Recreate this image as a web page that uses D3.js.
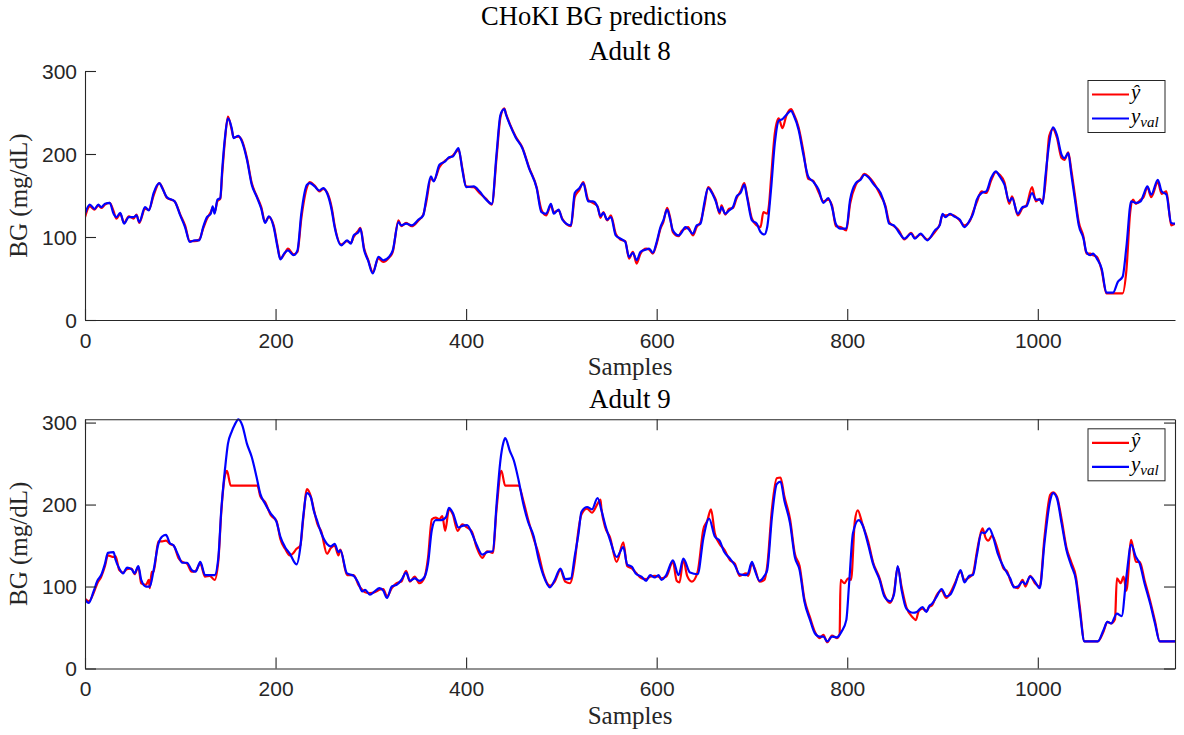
<!DOCTYPE html>
<html>
<head>
<meta charset="utf-8">
<script src="https://cdn.jsdelivr.net/npm/d3@7"></script>
<style>
body { margin: 0; background: #fff; }
</style>
</head>
<body>
<div id="chart"></div>
<script>
// tick values
var sampleTicks = [0, 200, 400, 600, 800, 1000];
var bgTicks = [0, 100, 200, 300];
var panelTitles = ['Adult 8', 'Adult 9'];

// [sample, BG] pairs
var adult8Pred = [[0,124],[5,137],[10,133],[14,138],[17,135],[21,139],[26,141],[30,131],[33,122],[37,128],[41,117],[46,125],[51,122],[54,127],[57,117],[63,134],[67,133],[72,150],[78,165],[81,160],[86,147],[94,143],[100,127],[105,114],[110,95],[115,95],[120,97],[124,110],[128,122],[132,130],[134,135],[136,130],[139,143],[142,146],[144,176],[147,218],[150,245],[154,229],[156,220],[161,221],[164,218],[170,195],[175,165],[180,150],[185,136],[189,118],[193,124],[198,114],[202,90],[205,74],[209,79],[213,86],[219,79],[223,82],[227,122],[233,160],[236,166],[241,162],[246,155],[250,158],[254,154],[259,135],[262,114],[269,91],[275,95],[279,93],[282,100],[287,108],[289,111],[293,86],[297,73],[302,58],[308,74],[313,70],[319,75],[323,82],[329,120],[332,113],[337,117],[343,113],[350,120],[355,127],[358,141],[363,170],[366,168],[372,184],[378,192],[382,195],[386,198],[392,205],[396,183],[400,161],[408,160],[414,153],[421,146],[427,139],[432,196],[436,244],[440,255],[442,248],[446,236],[452,221],[459,208],[466,184],[474,160],[479,133],[484,126],[489,138],[492,130],[497,132],[501,122],[510,113],[514,148],[519,157],[523,166],[528,145],[533,141],[538,137],[541,123],[544,130],[548,120],[552,126],[557,104],[562,97],[567,95],[571,74],[575,82],[579,68],[583,80],[589,86],[592,85],[596,80],[600,92],[604,110],[607,118],[611,135],[614,124],[617,106],[623,101],[626,107],[630,110],[633,112],[638,102],[642,112],[646,118],[650,137],[654,160],[659,152],[662,145],[666,128],[668,138],[672,127],[676,134],[680,135],[684,147],[688,155],[692,165],[695,149],[700,122],[705,114],[709,112],[712,130],[716,128],[718,140],[720,170],[724,225],[728,243],[732,231],[736,246],[741,254],[744,248],[749,232],[754,203],[759,170],[764,168],[770,154],[775,143],[780,145],[784,138],[788,113],[793,112],[799,108],[803,140],[809,163],[814,170],[818,176],[823,172],[828,165],[835,150],[840,138],[844,118],[849,113],[854,108],[860,97],[867,105],[871,99],[877,103],[884,97],[892,106],[897,115],[900,126],[903,126],[908,127],[912,126],[918,120],[923,114],[929,120],[932,130],[936,142],[941,155],[946,153],[951,168],[956,178],[960,175],[965,166],[970,140],[973,149],[979,126],[984,135],[988,138],[994,160],[998,143],[1002,146],[1005,142],[1008,165],[1012,222],[1016,230],[1020,220],[1025,195],[1028,193],[1032,202],[1035,182],[1039,150],[1043,118],[1048,100],[1051,80],[1055,80],[1058,78],[1062,76],[1067,60],[1072,32],[1089,32],[1093,60],[1097,130],[1100,145],[1103,140],[1108,145],[1111,148],[1115,160],[1119,148],[1126,166],[1130,152],[1135,155],[1140,114],[1144,116]];

var adult8Val = [[0,128],[5,139],[10,134],[14,139],[17,136],[21,140],[26,141],[30,128],[33,124],[37,129],[41,116],[46,124],[51,124],[54,126],[57,118],[63,136],[67,132],[72,153],[78,165],[81,159],[86,148],[94,143],[100,126],[105,112],[110,94],[115,96],[120,96],[124,112],[128,124],[132,128],[134,137],[136,128],[139,145],[142,147],[144,181],[147,221],[150,243],[154,231],[156,219],[161,222],[164,217],[170,193],[175,163],[180,149],[185,134],[189,117],[193,125],[198,112],[202,88],[205,73],[209,80],[213,84],[219,78],[223,84],[227,128],[233,163],[236,165],[241,161],[246,156],[250,159],[254,153],[259,132],[262,112],[269,90],[275,96],[279,92],[282,102],[287,106],[289,110],[293,84],[297,72],[302,56],[308,76],[313,72],[319,76],[323,84],[329,118],[332,114],[337,116],[343,114],[350,121],[355,126],[358,145],[363,173],[366,167],[372,187],[378,191],[382,196],[386,197],[392,207],[396,181],[400,160],[408,161],[414,155],[421,145],[427,140],[432,201],[436,247],[440,254],[442,247],[446,235],[452,220],[459,207],[466,183],[474,159],[479,130],[484,128],[489,140],[492,128],[497,133],[501,121],[510,114],[514,153],[519,159],[523,165],[528,143],[533,143],[538,136],[541,125],[544,129],[548,121],[552,124],[557,102],[562,98],[567,94],[571,76],[575,81],[579,72],[583,82],[589,85],[592,86],[596,81],[600,94],[604,112],[607,120],[611,133],[614,122],[617,108],[623,102],[626,105],[630,112],[633,110],[638,104],[642,114],[646,116],[650,141],[654,159],[659,151],[662,143],[666,130],[668,136],[672,128],[676,132],[680,136],[684,149],[688,153],[692,163],[695,147],[700,120],[705,116],[709,106],[713,103],[716,112],[720,157],[724,213],[728,240],[732,242],[736,247],[741,252],[744,246],[749,229],[754,199],[759,173],[764,167],[770,157],[775,141],[780,147],[784,136],[788,116],[793,110],[799,110],[803,145],[809,165],[814,169],[818,175],[823,171],[828,163],[835,153],[840,136],[844,116],[849,114],[854,106],[860,98],[867,104],[871,98],[877,104],[884,96],[892,108],[897,114],[900,128],[903,124],[908,128],[912,125],[918,121],[923,112],[929,121],[932,128],[936,145],[941,153],[946,155],[951,171],[956,179],[960,173],[965,163],[970,143],[973,147],[979,128],[984,136],[988,137],[994,153],[998,145],[1002,145],[1005,140],[1008,173],[1012,213],[1016,232],[1020,223],[1025,199],[1028,195],[1032,201],[1035,177],[1039,145],[1043,114],[1048,98],[1051,82],[1055,78],[1058,80],[1062,74],[1067,62],[1072,33],[1079,33],[1084,46],[1089,52],[1093,88],[1098,143],[1103,141],[1108,143],[1111,151],[1115,161],[1119,151],[1126,169],[1130,155],[1135,151],[1140,117],[1144,116]];

var adult9Pred = [[0,85],[4,82],[9,92],[13,104],[17,112],[21,125],[24,138],[30,136],[32,137],[36,120],[40,117],[44,121],[49,122],[52,115],[56,124],[59,104],[64,102],[67,108],[68,98],[70,118],[72,118],[77,155],[81,155],[85,156],[89,152],[93,150],[98,135],[102,130],[107,128],[112,118],[116,119],[121,128],[126,112],[131,113],[136,108],[140,132],[143,190],[147,236],[149,241],[153,223],[181,223],[184,210],[189,203],[195,187],[201,180],[205,158],[210,146],[215,138],[218,140],[222,146],[226,150],[229,182],[233,219],[237,210],[240,195],[244,176],[248,167],[254,140],[258,147],[262,150],[266,138],[268,145],[275,114],[282,114],[287,102],[291,96],[294,93],[299,92],[304,93],[309,96],[313,97],[317,88],[322,98],[327,104],[332,106],[337,119],[341,106],[346,112],[351,104],[356,110],[360,135],[364,182],[368,184],[372,182],[375,186],[378,168],[382,194],[386,188],[391,168],[396,176],[401,172],[406,167],[411,148],[417,135],[422,143],[428,141],[432,195],[437,241],[441,223],[455,223],[460,205],[465,182],[471,158],[476,140],[481,116],[488,101],[493,106],[499,120],[504,106],[509,104],[514,130],[518,170],[521,188],[527,195],[532,190],[538,201],[541,206],[542,195],[546,172],[551,160],[558,130],[565,154],[569,125],[574,122],[578,117],[584,110],[589,109],[593,112],[598,113],[602,112],[605,110],[610,112],[617,130],[621,107],[624,105],[628,133],[632,113],[637,106],[643,118],[649,170],[653,180],[657,194],[661,165],[666,152],[671,145],[677,132],[682,128],[687,113],[694,116],[696,113],[700,128],[703,122],[708,106],[713,108],[716,125],[721,195],[726,232],[730,233],[734,210],[740,182],[745,140],[750,125],[755,85],[761,62],[766,45],[771,37],[775,41],[779,32],[784,40],[789,37],[792,42],[793,108],[797,104],[801,110],[804,108],[808,180],[811,193],[816,176],[822,155],[827,130],[834,110],[839,90],[845,80],[849,92],[853,124],[857,100],[862,75],[869,62],[872,59],[875,70],[879,73],[883,70],[886,75],[889,77],[894,90],[899,95],[904,86],[908,92],[913,104],[919,118],[923,108],[928,111],[932,116],[936,142],[939,160],[942,171],[945,160],[948,156],[952,162],[958,145],[964,122],[968,118],[971,108],[975,100],[979,98],[984,108],[987,100],[992,113],[997,104],[1002,100],[1007,160],[1013,212],[1016,215],[1020,210],[1025,182],[1030,148],[1035,130],[1040,112],[1044,76],[1049,33],[1063,33],[1069,45],[1073,57],[1077,55],[1081,60],[1083,110],[1087,104],[1090,112],[1093,95],[1098,157],[1103,130],[1107,130],[1112,108],[1118,82],[1123,58],[1128,33],[1144,33]];

var adult9Val = [[0,84],[4,80],[9,94],[13,107],[17,114],[21,128],[24,141],[30,142],[32,133],[36,122],[40,116],[44,123],[49,121],[52,116],[56,125],[59,108],[64,100],[68,100],[72,120],[77,152],[81,161],[85,163],[89,153],[93,150],[98,138],[102,129],[107,129],[112,120],[116,118],[121,130],[126,114],[131,114],[136,114],[140,136],[143,193],[147,244],[150,274],[154,289],[157,297],[161,304],[165,297],[170,274],[175,258],[180,234],[184,213],[189,201],[195,189],[201,179],[205,161],[210,148],[215,140],[222,127],[226,148],[229,185],[233,214],[237,209],[240,193],[244,179],[248,165],[254,152],[258,149],[262,152],[266,142],[268,144],[275,116],[282,113],[287,104],[291,94],[294,96],[299,90],[304,94],[309,98],[313,95],[317,86],[322,100],[327,102],[332,108],[337,117],[341,107],[346,110],[351,107],[356,111],[360,128],[364,169],[368,181],[374,181],[379,185],[382,196],[386,190],[392,172],[396,174],[401,175],[406,165],[411,151],[417,139],[422,142],[428,143],[432,201],[436,254],[439,275],[441,281],[446,265],[450,254],[455,230],[460,201],[465,179],[471,161],[476,134],[481,114],[488,99],[493,108],[499,122],[504,109],[510,110],[514,137],[518,165],[521,191],[527,197],[532,194],[538,208],[542,193],[546,175],[551,157],[558,136],[565,148],[569,127],[574,124],[578,116],[584,112],[589,107],[593,114],[598,111],[602,114],[605,108],[610,114],[617,132],[623,114],[628,134],[635,117],[643,115],[649,159],[655,183],[661,161],[666,156],[671,142],[677,134],[682,126],[687,115],[694,114],[696,116],[700,130],[703,120],[708,107],[713,113],[716,120],[721,185],[726,225],[730,228],[734,205],[740,177],[745,136],[750,120],[755,82],[761,59],[766,43],[771,39],[775,39],[779,33],[784,39],[789,38],[794,45],[799,59],[802,104],[806,165],[812,181],[816,175],[822,151],[827,128],[834,108],[839,88],[845,82],[849,90],[853,125],[857,96],[862,73],[869,68],[873,69],[879,75],[883,69],[886,76],[889,79],[894,88],[899,97],[904,88],[908,90],[913,102],[919,120],[923,105],[928,113],[932,114],[936,138],[941,166],[944,165],[949,171],[953,161],[958,140],[964,124],[968,116],[971,110],[975,99],[979,100],[984,106],[987,103],[992,112],[997,106],[1002,98],[1007,153],[1013,205],[1016,214],[1020,208],[1025,177],[1030,145],[1035,126],[1040,108],[1044,71],[1049,33],[1063,33],[1069,47],[1073,57],[1077,55],[1083,67],[1088,64],[1093,112],[1098,151],[1103,136],[1107,128],[1112,104],[1118,79],[1123,55],[1128,33],[1144,33]];

var width = 1184;
var height = 735;
var axisColor = '#262626';
var serif = '"Liberation Serif", "Times New Roman", serif';
var sans = '"Liberation Sans", Arial, sans-serif';

var svg = d3.select('#chart')
    .append('svg')
    .attr('width', width)
    .attr('height', height);

var xScale = d3.scaleLinear()
    .domain([0, 1144])
    .range([85, 1175]);

var panels = [
    { title: panelTitles[0], top: 71, bottom: 320, yMax: 300, box: false, pred: adult8Pred, val: adult8Val },
    { title: panelTitles[1], top: 419.3, bottom: 668.5, yMax: 304, box: true, pred: adult9Pred, val: adult9Val }
];

// overall title
svg.append('text')
    .attr('x', 604)
    .attr('y', 25)
    .attr('text-anchor', 'middle')
    .style('font-family', serif)
    .style('font-size', '26.5px')
    .style('fill', '#000')
    .text('CHoKI BG predictions');

panels.forEach(function(p, i) {
    var yScale = d3.scaleLinear()
        .domain([0, p.yMax])
        .range([p.bottom, p.top]);

    var g = svg.append('g');

    // clip so lines stay in the axes
    var clipId = 'clip' + i;
    svg.append('clipPath').attr('id', clipId)
        .append('rect')
        .attr('x', 85).attr('y', p.top - 2)
        .attr('width', 1090).attr('height', p.bottom - p.top + 2);

    var line = d3.line()
        .x(function(d) { return xScale(d[0]); })
        .y(function(d) { return yScale(d[1]); })
        .curve(d3.curveMonotoneX);

    g.append('path')
        .datum(p.pred)
        .attr('clip-path', 'url(#' + clipId + ')')
        .attr('fill', 'none')
        .attr('stroke', '#ff0000')
        .attr('stroke-width', 2.2)
        .attr('stroke-linejoin', 'round')
        .attr('d', line);

    g.append('path')
        .datum(p.val)
        .attr('clip-path', 'url(#' + clipId + ')')
        .attr('fill', 'none')
        .attr('stroke', '#0000ff')
        .attr('stroke-width', 2.2)
        .attr('stroke-linejoin', 'round')
        .attr('d', line);

    // axes
    var xAxis = g.append('g')
        .attr('transform', 'translate(0,' + p.bottom + ')')
        .call(d3.axisBottom(xScale).tickValues(sampleTicks).tickFormat(d3.format('d'))
            .tickSizeInner(-11).tickSizeOuter(0).tickPadding(13));
    var yAxis = g.append('g')
        .attr('transform', 'translate(85,0)')
        .call(d3.axisLeft(yScale).tickValues(bgTicks).tickSizeInner(-11).tickSizeOuter(0).tickPadding(8));

    if (p.box) {
        g.append('g')
            .attr('transform', 'translate(0,' + p.top + ')')
            .call(d3.axisTop(xScale).tickValues(sampleTicks).tickSizeInner(-11).tickSizeOuter(0).tickFormat(''));
        g.append('g')
            .attr('transform', 'translate(1175,0)')
            .call(d3.axisRight(yScale).tickValues(bgTicks).tickSizeInner(-11).tickSizeOuter(0).tickFormat(''));
    }

    g.selectAll('.domain, .tick line')
        .attr('stroke', axisColor)
        .attr('stroke-width', 1.1);
    g.selectAll('.tick text')
        .style('font-family', sans)
        .style('font-size', '21px')
        .attr('fill', axisColor);
    yAxis.selectAll('.tick text').attr('dy', '0.35em');

    // panel title and labels
    svg.append('text')
        .attr('x', 630)
        .attr('y', p.top - 11)
        .attr('text-anchor', 'middle')
        .style('font-family', serif)
        .style('font-size', '27px')
        .text(p.title);

    svg.append('text')
        .attr('x', 630)
        .attr('y', p.bottom + 55)
        .attr('text-anchor', 'middle')
        .style('font-family', serif)
        .style('font-size', '25px')
        .attr('fill', axisColor)
        .text('Samples');

    svg.append('text')
        .attr('transform', 'translate(27,' + ((p.top + p.bottom) / 2) + ') rotate(-90)')
        .attr('text-anchor', 'middle')
        .style('font-family', serif)
        .style('font-size', '25px')
        .attr('fill', axisColor)
        .text('BG (mg/dL)');

    // legend box
    var lg = svg.append('g').attr('transform', 'translate(1088,' + (p.top + 9.5) + ')');
    lg.append('rect')
        .attr('width', 77).attr('height', 52)
        .attr('fill', '#fff')
        .attr('stroke', axisColor)
        .attr('stroke-width', 1);
    lg.append('line')
        .attr('x1', 4).attr('x2', 41).attr('y1', 14).attr('y2', 14)
        .attr('stroke', '#ff0000').attr('stroke-width', 2.2);
    lg.append('line')
        .attr('x1', 4).attr('x2', 41).attr('y1', 38).attr('y2', 38)
        .attr('stroke', '#0000ff').attr('stroke-width', 2.2);
    lg.append('text')
        .attr('x', 43).attr('y', 18)
        .style('font-family', serif)
        .style('font-style', 'italic')
        .style('font-size', '21px')
        .text('\u0177');
    var t2 = lg.append('text')
        .attr('x', 43).attr('y', 42)
        .style('font-family', serif)
        .style('font-style', 'italic')
        .style('font-size', '21px');
    t2.append('tspan').text('y');
    t2.append('tspan').attr('dy', 4).style('font-size', '15px').text('val');
});
</script>
</body>
</html>
